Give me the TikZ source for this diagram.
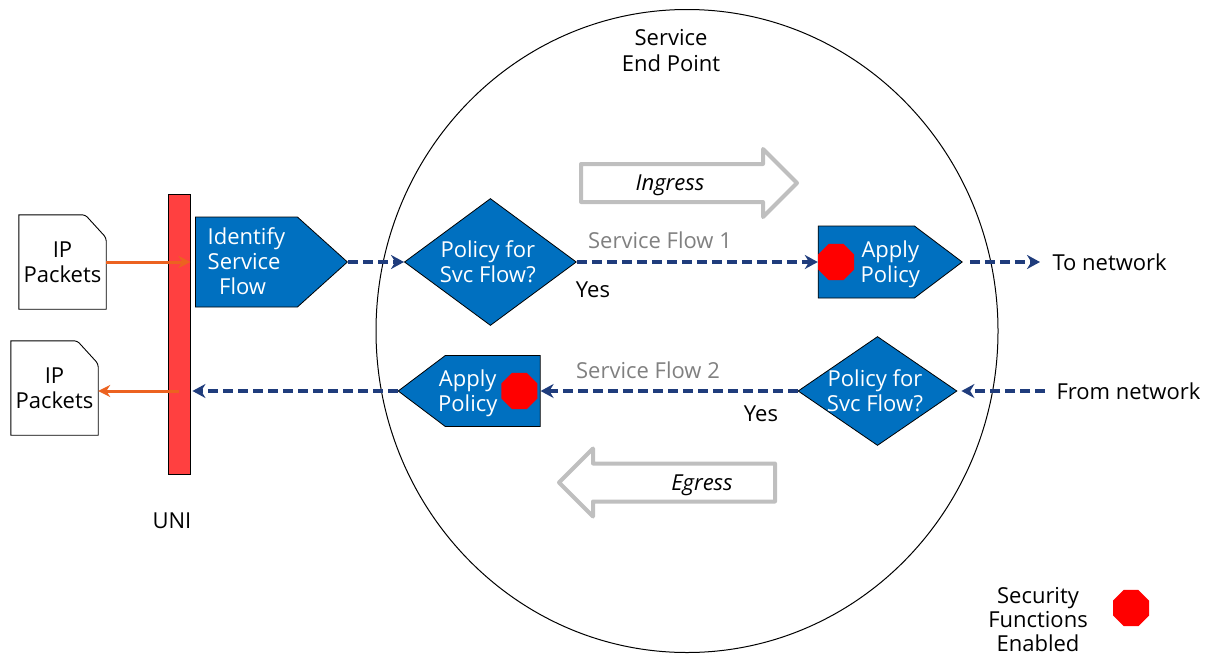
\documentclass[tikz,border=0pt]{standalone}
\usepackage{fontspec}
\setmainfont{Open Sans}
\usetikzlibrary{positioning,arrows.meta,shapes.geometric,shapes.symbols,shapes.arrows}
\definecolor{boxblue}{HTML}{0070C0}
\definecolor{flowblue}{HTML}{1F3C7C}
\definecolor{wireorange}{HTML}{EC6220}
\definecolor{barred}{HTML}{FF4040}
\definecolor{hollowgray}{HTML}{BFBFBF}
\definecolor{flowgray}{HTML}{808080}
\newcommand{\lowered}[1]{\smash{\raisebox{-8pt}{#1}}}
\newcommand{\applytext}{\lowered{\begin{tabular}{@{}c@{}}Apply\\Policy\end{tabular}}}
\newcommand{\policytext}{\makebox[0pt]{\hspace*{-5pt}\lowered{\begin{tabular}{@{}c@{}}Policy for\\Svc Flow?\end{tabular}}}}

\begin{document}
\begin{tikzpicture}[x=1pt,y=-1pt,font=\fontsize{22}{25}\selectfont,
  signalnode/.style = {signal, draw=black, fill=boxblue, text=white, line width=0.8pt, inner sep=0pt, signal pointer angle=84},
  policynode/.style = {diamond, draw=black, fill=boxblue, text=white, line width=0.8pt, inner sep=0pt},
  packetnode/.style = {inner sep=0pt, minimum width=87pt, minimum height=94pt, align=center},
  packetline/.style = {draw=black, line width=0.9pt},
  stopnode/.style = {regular polygon, regular polygon sides=8, fill=red, inner sep=0pt, minimum size=39pt},
  hollowarrow/.style = {single arrow, draw=hollowgray, line width=4pt, line join=round, inner xsep=0pt, inner ysep=17pt, minimum height=216pt, minimum width=64pt, single arrow head extend=15pt, single arrow head indent=0pt},
  flow/.style = {draw=flowblue, line width=3.2pt, dash pattern=on 10pt off 5pt, -{Stealth[length=13pt,width=14pt]}},
  wire/.style = {draw=wireorange, line width=3pt, -{Stealth[length=12pt,width=12pt]}},
  flowlabel/.style = {text=flowgray}]
  \useasboundingbox (0,0) rectangle (1209,656);

  \node[ellipse, draw=black, line width=1pt, inner sep=0pt, minimum width=622pt, minimum height=643pt] (endpoint) at (687,331) {};
  \node[align=center] (endpointlabel) at (671,51) {Service\\[1pt]End Point};

  \node[hollowarrow] (ingress) at (679.5,183) {};
  \node[hollowarrow, shape border rotate=180] (egress) at (676.5,482.5) {};
  \node (ingresslabel) at (670,185) {\itshape Ingress};
  \node (egresslabel) at (702,485) {\itshape Egress};

  \node[draw=black, fill=barred, line width=0.9pt, inner sep=0pt, minimum width=22pt, minimum height=280pt] (uni) at (179,334) {};
  \node (unilabel) at (172,521) {UNI};

  \node[packetnode] (packet1) at (62.5,262) {IP\\Packets};
  \node[packetnode] (packet2) at (54.5,388) {IP\\Packets};
  \foreach \p in {packet1,packet2}
    \draw[packetline] (\p.south east) -- (\p.south west) -- (\p.north west) [rounded corners=3pt] -- ([xshift=-21pt]\p.north east) -- ([yshift=-23pt]\p.north east) [sharp corners] -- cycle;

  \node[signalnode, signal to=east, minimum width=152pt, minimum height=90pt, anchor=west] (identify) at (195,262) {\lowered{\begin{tabular}{@{}l@{}}Identify\\Service\\\ \ Flow\end{tabular}}};
  \node[policynode, minimum width=172pt, minimum height=127pt] (policy1) [right=56pt of identify] {\policytext};
  \node[signalnode, signal to=east, signal pointer angle=74, minimum width=144pt, minimum height=72pt] (apply1) [right=241pt of policy1] {\makebox[0pt]{\hspace*{48pt}\applytext}};
  \coordinate (tonet) at (1040,262);
  \node (tonetlabel) [right=9pt of tonet] {To network};

  \node[policynode, minimum width=159pt, minimum height=109pt] (policy2) at (877.5,391) {\policytext};
  \node[signalnode, signal to=west, signal pointer angle=74, minimum width=142pt, minimum height=71pt] (apply2) [left=257pt of policy2] {\makebox[0pt]{\applytext\hspace*{50pt}}};
  \coordinate (fromnet) at (1045,391);
  \node (fromnetlabel) [right=8pt of fromnet] {From network};

  \node[stopnode] (stop1) [right=0pt of apply1.west] {};
  \node[stopnode] (stop2) [left=3pt of apply2.east] {};

  \node[flowlabel] (flow1label) at (660,240) {Service Flow 1};
  \node[flowlabel] (flow2label) at (648,370) {Service Flow 2};
  \node (yes1) at (593,290) {Yes};
  \node (yes2) at (761,414) {Yes};

  \node[align=center, inner sep=0pt, font=\fontsize{22}{24}\selectfont] (legend) at (1038,620) {Security\\Functions\\Enabled};
  \node[stopnode] (stop3) at (1131,608) {};

  \draw[wire] (packet1.east) -- (uni.east |- packet1.east);
  \draw[wire] (uni.center |- apply2.west) -- (packet2.east |- apply2.west);
  \draw[flow] (identify.east) -- (policy1.west);
  \draw[flow] (policy1.east) -- (apply1.west);
  \draw[flow, shorten <=7pt] (apply1.east) -- (tonet);
  \draw[flow, shorten >=4pt] (fromnet) -- (policy2.east);
  \draw[flow] (policy2.west) -- (apply2.east);
  \draw[flow, shorten >=2pt] (apply2.west) -- (uni.east |- apply2.west);
\end{tikzpicture}
\end{document}
